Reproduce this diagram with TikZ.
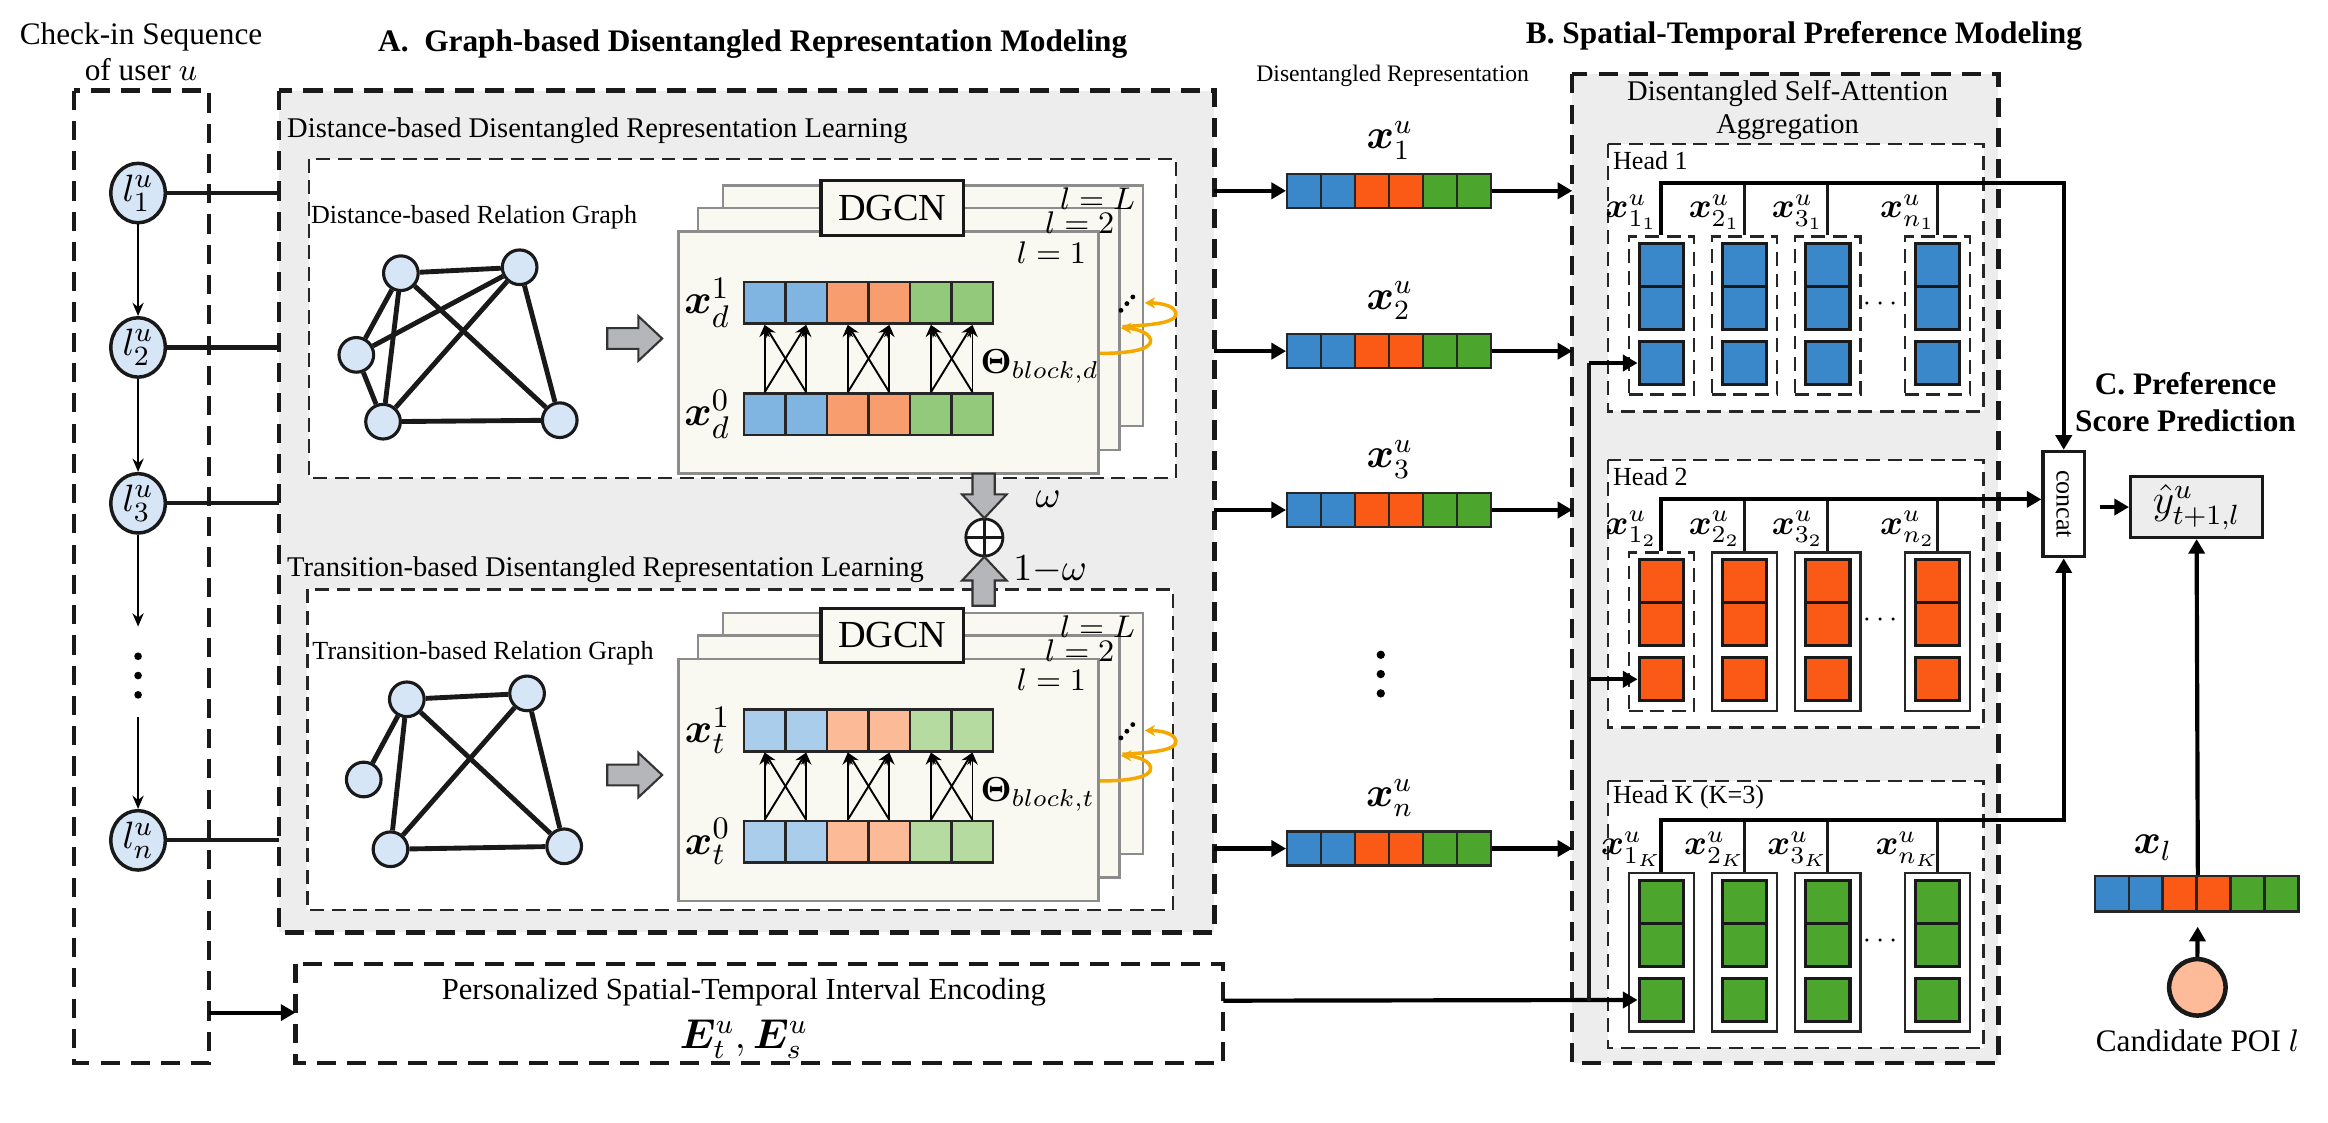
\documentclass[tikz,border=0pt]{standalone}
\usepackage{fontspec}
\setmainfont{Liberation Serif}
\usepackage{amsmath}
\usepackage{bm}
\usetikzlibrary{arrows.meta,shapes.geometric,positioning}

\definecolor{cblue}{RGB}{58,136,202}
\definecolor{corange}{RGB}{250,90,22}
\definecolor{cgreen}{RGB}{76,165,44}
\definecolor{dblue}{RGB}{128,181,226}
\definecolor{dorange}{RGB}{247,157,110}
\definecolor{dgreen}{RGB}{146,201,122}
\definecolor{tblue}{RGB}{170,205,235}
\definecolor{torange}{RGB}{252,186,150}
\definecolor{tgreen}{RGB}{181,219,161}
\definecolor{panel}{RGB}{237,237,237}
\definecolor{layer}{RGB}{249,249,241}
\definecolor{layeredge}{RGB}{140,140,140}
\definecolor{locfill}{RGB}{214,230,247}
\definecolor{poifill}{RGB}{253,187,154}
\definecolor{loopc}{RGB}{245,168,0}
\definecolor{blockgray}{RGB}{180,182,185}

\tikzset{
  outerbox/.style={draw=black!90, line width=1.2pt, dash pattern=on 5.5pt off 3.2pt, fill=panel},
  seqbox/.style={draw=black!90, line width=1.2pt, dash pattern=on 5.5pt off 3.2pt},
  innerbox/.style={draw=black!85, line width=0.7pt, dash pattern=on 4pt off 2.2pt, fill=white},
  layerbox/.style={draw=layeredge, line width=0.7pt, fill=layer},
  gcnbox/.style={draw=black!90, line width=0.9pt, fill=layer, minimum width=1.44cm, minimum height=0.55cm, font=\fontsize{11}{13}\selectfont},
  loc/.style={ellipse, draw=black!90, line width=1pt, fill=locfill, minimum width=0.55cm, minimum height=0.6cm, inner sep=0pt, font=\fontsize{11}{13}\selectfont},
  gnode/.style={circle, draw=black!90, line width=0.9pt, fill=locfill, minimum size=0.35cm, inner sep=0pt},
  gedge/.style={line width=1.4pt, draw=black!90},
  dcell/.style={draw=black!85, line width=0.7pt, minimum size=0.42cm, inner sep=0pt},
  repcell/.style={draw=black!85, line width=0.7pt, minimum width=0.343cm, minimum height=0.345cm, inner sep=0pt},
  hcell/.style={draw=black!90, line width=0.9pt, minimum width=0.45cm, minimum height=0.435cm, inner sep=0pt},
  dcol/.style={draw=black!85, line width=0.7pt, dash pattern=on 4pt off 2.2pt, fill=white, minimum width=0.66cm, minimum height=1.6cm, inner sep=0pt},
  scol/.style={draw=black!85, line width=0.7pt, fill=white, minimum width=0.66cm, minimum height=1.6cm, inner sep=0pt},
  blockarr/.style={draw=black!80, line width=0.6pt, fill=blockgray},
  linkline/.style={line width=1.2pt, draw=black!90},
  busline/.style={line width=1.2pt, draw=black!90},
  dropline/.style={line width=0.9pt, draw=black!90},
  seqarr/.style={-{Stealth[length=3.8pt,width=3.2pt]}, line width=0.7pt},
  gcnarr/.style={-{Stealth[length=3.5pt,width=3pt]}, line width=0.55pt},
  looparr/.style={-{Stealth[length=3pt,width=3.2pt]}, line width=1pt, draw=loopc},
  boldarr/.style={-{Triangle[length=4.2pt,width=4.6pt]}, line width=1.2pt},
  titlefont/.style={font=\fontsize{9}{10.5}\bfseries\selectfont},
  capfont/.style={font=\fontsize{9}{10.3}\selectfont},
  secfont/.style={font=\fontsize{8.2}{9.5}\selectfont},
  smallfont/.style={font=\fontsize{7.5}{9}\selectfont},
  headfont/.style={font=\fontsize{7.5}{9}\selectfont, inner sep=0pt},
  veclab/.style={font=\fontsize{13}{15}\selectfont},
  replab/.style={font=\fontsize{11.5}{13}\selectfont},
  headlab/.style={font=\fontsize{10}{12}\selectfont, inner sep=0pt},
  laylab/.style={font=\fontsize{9}{10}\selectfont, inner sep=0pt}
}

\begin{document}
\begin{tikzpicture}[x=0.015cm,y=-0.015cm]
\useasboundingbox (0,0) rectangle (1568,756);

% frames
\draw[seqbox] (50,61) rectangle (141,716);
\draw[outerbox] (188,61) rectangle (818,628);
\draw[outerbox] (1059,50) rectangle (1346,716);
\draw[seqbox] (199,649) rectangle (824,716);
\draw[innerbox] (208,107) rectangle (792,322);
\draw[innerbox] (207,397) rectangle (790,613);

% titles
\node[capfont, align=center] (capseq) at (95,35) {Check-in Sequence\\of user $u$};
\node[titlefont] (ttlA) at (507,30) {A.~~Graph-based Disentangled Representation Modeling};
\node[titlefont] (ttlB) at (1215,24) {B. Spatial-Temporal Preference Modeling};
\node[titlefont, align=center] (ttlC) at (1472,271) {C. Preference\\Score Prediction};
\node[font=\fontsize{6.8}{8}\selectfont] (reptxt) at (938,51) {Disentangled Representation};
\node[secfont, align=center] (attxt) at (1204,74) {Disentangled Self-Attention\\Aggregation};
\node[secfont, anchor=west, inner sep=0pt] (dsec) at (193,88) {Distance-based Disentangled Representation Learning};
\node[secfont, anchor=west, inner sep=0pt] (tsec) at (193,384) {Transition-based Disentangled Representation Learning};
\node[smallfont, anchor=west, inner sep=0pt] (dgt) at (209,146) {Distance-based Relation Graph};
\node[smallfont, anchor=west, inner sep=0pt] (tgt) at (210,440) {Transition-based Relation Graph};

% check-in sequence
\node[loc] (loc1) at (93,130) {$l^u_1$};
\node[loc] (loc2) at (93,234) {$l^u_2$};
\node[loc] (loc3) at (93,339) {$l^u_3$};
\node[loc] (locn) at (93,566) {$l^u_n$};
\coordinate (seqgap1) at (93,422);
\coordinate (seqgap2) at (93,483);
\draw[seqarr] (loc1) -- (loc2);
\draw[seqarr] (loc2) -- (loc3);
\draw[seqarr] (loc3) -- (seqgap1);
\draw[seqarr] (seqgap2) -- (locn);
\fill (93,442) circle (1.1pt) (93,455) circle (1.1pt) (93,468) circle (1.1pt);
\coordinate (ain1) at (188,130);
\coordinate (ain2) at (188,234);
\coordinate (ain3) at (188,339);
\coordinate (ainn) at (188,566);
\draw[linkline] (loc1) -- (ain1);
\draw[linkline] (loc2) -- (ain2);
\draw[linkline] (loc3) -- (ain3);
\draw[linkline] (locn) -- (ainn);

% distance-based graph
\node[gnode] (ga) at (270,184) {};
\node[gnode] (gb) at (350,180) {};
\node[gnode] (gc) at (240,239) {};
\node[gnode] (gd) at (258,284) {};
\node[gnode] (ge) at (377,283) {};
\draw[gedge] (ga) -- (gb);
\draw[gedge] (ga) -- (gc);
\draw[gedge] (ga) -- (gd);
\draw[gedge] (ga) -- (ge);
\draw[gedge] (gb) -- (gc);
\draw[gedge] (gb) -- (gd);
\draw[gedge] (gb) -- (ge);
\draw[gedge] (gc) -- (gd);
\draw[gedge] (gd) -- (ge);

% transition-based graph
\node[gnode] (ta) at (274,471) {};
\node[gnode] (tb) at (355,467) {};
\node[gnode] (tc) at (245,525) {};
\node[gnode] (td) at (263,572) {};
\node[gnode] (te) at (380,570) {};
\draw[gedge] (ta) -- (tb);
\draw[gedge] (ta) -- (tc);
\draw[gedge] (ta) -- (td);
\draw[gedge] (ta) -- (te);
\draw[gedge] (tb) -- (td);
\draw[gedge] (tb) -- (te);
\draw[gedge] (td) -- (te);

\draw[blockarr] (409,221) -- (430,221) -- (430,213) -- (446,228) -- (430,243) -- (430,235) -- (409,235) -- cycle;
\draw[blockarr] (409,515) -- (430,515) -- (430,507) -- (446,522) -- (430,537) -- (430,529) -- (409,529) -- cycle;

% DGCN layer stacks
\foreach \oy/\tg/\ca/\cb/\cc in {0/d/dblue/dorange/dgreen, 288/t/tblue/torange/tgreen}{
  \draw[layerbox] (487,{125+\oy}) rectangle (770,{287+\oy});
  \draw[layerbox] (470,{140+\oy}) rectangle (754,{303+\oy});
  \draw[layerbox] (457,{156+\oy}) rectangle (740,{319+\oy});
  \node[gcnbox] (gcn\tg) at (601,{140+\oy}) {DGCN};
  \node[laylab, anchor=east] (lL\tg) at (765,{134+\oy}) {$l=L$};
  \node[laylab, anchor=east] (l2\tg) at (751,{150+\oy}) {$l=2$};
  \node[laylab, anchor=east] (l1\tg) at (732,{170+\oy}) {$l=1$};
  \foreach \i/\cl in {1/\ca,2/\ca,3/\cb,4/\cb,5/\cc,6/\cc}{
    \node[dcell, fill=\cl] (up\tg\i) at ({487+28*\i},{204+\oy}) {};
    \node[dcell, fill=\cl] (lo\tg\i) at ({487+28*\i},{279+\oy}) {};
  }
  \foreach \jj/\kk in {1/2,3/4,5/6}{
    \draw[gcnarr] (lo\tg\jj.north) -- (up\tg\jj.south);
    \draw[gcnarr] (lo\tg\kk.north) -- (up\tg\kk.south);
    \draw[gcnarr] (lo\tg\jj.north) -- (up\tg\kk.south);
    \draw[gcnarr] (lo\tg\kk.north) -- (up\tg\jj.south);
  }
  \node[veclab, anchor=east] (xa\tg) at (up\tg1.west) {$\bm{x}^1_{\tg}$};
  \node[veclab, anchor=east] (xb\tg) at (lo\tg1.west) {$\bm{x}^0_{\tg}$};
  \node[font=\fontsize{10}{12}\selectfont, anchor=west, inner sep=0pt] (theta\tg) at (660,{247+\oy}) {$\bm{\Theta}_{block,\tg}$};
  \draw[looparr] (741,{238+\oy}) .. controls (758,{238+\oy}) and (776,{236+\oy}) .. (775,{229+\oy}) .. controls (774,{223+\oy}) and (762,{221+\oy}) .. (755,{221+\oy});
  \draw[looparr] (756,{220+\oy}) .. controls (772,{219+\oy}) and (793,{218+\oy}) .. (792,{211+\oy}) .. controls (791,{205+\oy}) and (779,{204+\oy}) .. (771,{204+\oy});
  \fill (755,{209+\oy}) circle (0.7pt) (759,{204.5+\oy}) circle (0.7pt) (763,{200+\oy}) circle (0.7pt);
}

% weighted fusion
\node[circle, draw=black!90, line width=0.8pt, fill=white, minimum size=0.375cm, inner sep=0pt,
  path picture={\draw[line width=0.8pt] (path picture bounding box.north) -- (path picture bounding box.south) (path picture bounding box.west) -- (path picture bounding box.east);}] (oplus) at (663,362) {};
\draw[blockarr] (655,319) -- (670,319) -- (670,333) -- (678,333) -- (663,349) -- (648,333) -- (655,333) -- cycle;
\draw[blockarr] (655,408) -- (670,408) -- (670,391) -- (678,391) -- (663,375) -- (648,391) -- (655,391) -- cycle;
\node[font=\fontsize{11}{13}\selectfont] (wd) at (706,336) {$\omega$};
\node[font=\fontsize{11}{13}\selectfont, anchor=west, inner sep=0pt] (wt) at (682,384) {$1{-}\omega$};

% disentangled representations
\foreach \rv/\ry in {1/128.5, 2/236.5, 3/343.5, n/571.5}{
  \foreach \i/\cl in {1/cblue,2/cblue,3/corange,4/corange,5/cgreen,6/cgreen}
    \node[repcell, fill=\cl] (rv\rv\i) at ({867+22.9*(\i-0.5)},\ry) {};
  \node[replab] (rl\rv) at (936,{\ry-34}) {$\bm{x}^u_{\rv}$};
  \coordinate (aout\rv) at (818,\ry);
  \coordinate (bin\rv) at (1059,\ry);
  \draw[boldarr] (aout\rv) -- (rv\rv1.west);
  \draw[boldarr] (rv\rv6.east) -- (bin\rv);
}
\fill (930,441) circle (1.2pt) (930,454) circle (1.2pt) (930,467) circle (1.2pt);

% attention heads
\foreach \h/\hy/\hname/\hcol/\sa/\sb in {1/97/{Head 1}/cblue/dcol/dcol, 2/310/{Head 2}/corange/dcol/scol, K/526/{Head K (K=3)}/cgreen/scol/scol}{
  \draw[innerbox] (1083,\hy) rectangle (1336,{\hy+180});
  \node[headfont, anchor=west] (head\h) at (1086,{\hy+11}) {\hname};
  \foreach \col/\colx/\coln/\colst in {1/1119/1/\sa, 2/1175/2/\sb, 3/1231/3/\sb, 4/1305/n/\sb}{
    \node[\colst] (col\h\col) at (\colx,{\hy+115.5}) {};
    \node[hcell, fill=\hcol] (ha\h\col) at (\colx,{\hy+81.5}) {};
    \node[hcell, fill=\hcol] (hb\h\col) at (\colx,{\hy+110.5}) {};
    \node[hcell, fill=\hcol] (hs\h\col) at (\colx,{\hy+147.5}) {};
    \node[headlab] (lab\h\col) at ({\colx-20},{\hy+46}) {$\bm{x}^u_{\coln_{\h}}$};
  }
  \node[font=\fontsize{8}{9}\selectfont] (hdots\h) at (1268,{\hy+108}) {$\cdots$};
  \draw[dropline] (col\h2.north) -- ++(0,-35);
  \draw[dropline] (col\h3.north) -- ++(0,-35);
  \draw[dropline] (col\h4.north) -- ++(0,-35);
}

% preference score prediction
\node[draw=black!90, line width=0.9pt, fill=white, minimum width=0.42cm, minimum height=1.065cm, inner sep=0pt, font=\fontsize{7.5}{9}\selectfont] (concat) at (1390,339.5) {\rotatebox{-90}{concat}};
\node[draw=black!90, line width=0.9pt, fill=panel, minimum width=1.335cm, minimum height=0.615cm, inner sep=0pt, font=\fontsize{12}{14}\selectfont] (yhat) at (1479.5,341.5) {$\hat{y}^u_{t+1,l}$};
\draw[boldarr] (col11.north) -- ++(0,-35) -| (concat.north);
\draw[boldarr] (col21.north) -- ++(0,-35) coordinate (bus2) -- (bus2 -| concat.west);
\draw[boldarr] (colK1.north) -- ++(0,-35) -| (concat.south);
\draw[boldarr, shorten <=4pt] (concat.east |- yhat.west) -- (yhat.west);

\foreach \i/\cl in {1/cblue,2/cblue,3/corange,4/corange,5/cgreen,6/cgreen}
  \node[repcell, fill=\cl, minimum height=0.36cm] (xl\i) at ({1411+22.83*(\i-0.5)},602) {};
\node[replab] (xllab) at (1450,571) {$\bm{x}_l$};
\draw[boldarr] (xl3.north east) -- (yhat.south);
\node[circle, draw=black!90, line width=1.3pt, fill=poifill, minimum size=0.57cm, inner sep=0pt] (poi) at (1480,665) {};
\draw[boldarr, shorten >=4pt] (poi.north) -- (xl3.south east);
\node[capfont, anchor=north] (poitxt) at (poi.south) {Candidate POI $l$};

% spatial-temporal interval encoding
\node[font=\fontsize{8.8}{10}\selectfont] (petxt) at (501,668) {Personalized Spatial-Temporal Interval Encoding};
\node[font=\fontsize{12}{14}\selectfont] (pemath) at (501,700) {$\bm{E}^u_t,\bm{E}^u_s$};
\coordinate (seqout) at (141,682);
\coordinate (pin) at (199,682);
\draw[boldarr] (seqout) -- (pin);
\coordinate (pout) at (824,674);
\draw[boldarr] (pout) -- (hsK1.west);
\draw[busline] (1070,674) -- (1070,244.5);
\draw[boldarr] (1070,244.5) -- (hs11.west);
\draw[boldarr] (1070,457.5) -- (hs21.west);
\end{tikzpicture}
\end{document}
